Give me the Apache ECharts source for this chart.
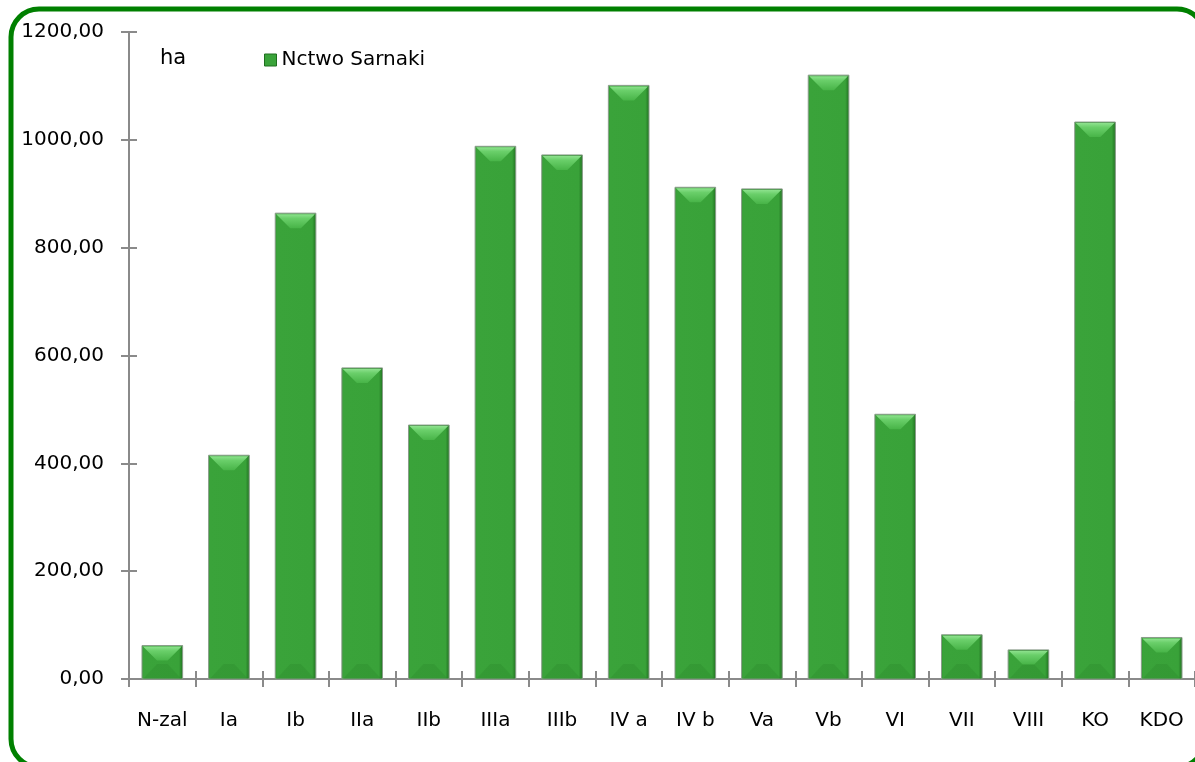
<!DOCTYPE html>
<html>
<head>
  <meta charset="UTF-8">
  <title>Nctwo Sarnaki</title>
  <style>
    * { margin: 0; padding: 0; }
    body { background: #ffffff; }
    #chart { width: 1195px; height: 762px; }
  </style>
</head>
<body>
<div id="chart"></div>
<script src="https://cdn.jsdelivr.net/npm/echarts@6/dist/echarts.min.js"></script>
<script>
  // dane
  var categories = ['N-zal', 'Ia', 'Ib', 'IIa', 'IIb', 'IIIa', 'IIIb', 'IV a', 'IV b', 'Va', 'Vb', 'VI', 'VII', 'VIII', 'KO', 'KDO'];
  var values = [62, 415, 864, 577, 471, 988, 972, 1101, 912, 909, 1120, 491, 82, 54, 1033, 77];
  var seriesName = 'Nctwo Sarnaki';
  var unitLabel = 'ha';

  var FONT = 'DejaVu Sans';
  var AXIS_COLOR = '#8a8a8a';
  var chart = echarts.init(document.getElementById('chart'));

  // slupek z fazowaniem (jak w Excelu)
  function renderBar(params, api) {
    var top = api.coord([api.value(0), api.value(1)]);
    var base = api.coord([api.value(0), 0]);
    var bw = api.size([1, 0])[0] * 0.61;
    var x = top[0] - bw / 2, y = top[1], h = base[1] - top[1];
    var b = Math.min(15, h / 2);
    return {
      type: 'group',
      children: [
        {
          type: 'rect',
          shape: { x: x, y: y, width: bw, height: h },
          style: {
            fill: new echarts.graphic.LinearGradient(0, 0, 1, 0, [
              { offset: 0, color: '#2f8f2f' },
              { offset: 0.05, color: '#3aa33a' },
              { offset: 0.9, color: '#39a239' },
              { offset: 1, color: '#1f6e1f' }
            ]),
            stroke: '#8a9c8a',
            lineWidth: 1
          }
        },
        {
          type: 'polygon',
          shape: { points: [[x + 1, y + 1], [x + bw - 1, y + 1], [x + bw - b, y + b], [x + b, y + b]] },
          style: {
            fill: new echarts.graphic.LinearGradient(0, 0, 0, 1, [
              { offset: 0, color: '#8ee28e' },
              { offset: 0.3, color: '#6acf6a' },
              { offset: 1, color: '#48b448' }
            ])
          }
        },
        {
          type: 'polygon',
          shape: { points: [[x + 1, base[1]], [x + bw - 1, base[1]], [x + bw - b, base[1] - b], [x + b, base[1] - b]] },
          style: { fill: 'rgba(30,110,30,0.15)' }
        }
      ]
    };
  }

  var option = {
    animation: false,
    textStyle: { fontFamily: FONT },
    graphic: [
      {
        type: 'rect',
        shape: { x: 11, y: 9, width: 1194, height: 758, r: 28 },
        style: { fill: 'none', stroke: '#008000', lineWidth: 5 },
        z: 100
      },
      {
        type: 'text',
        left: 160, top: 48,
        style: { text: unitLabel, fontSize: 21, fontFamily: FONT, fill: '#000' }
      }
    ],
    legend: {
      left: 259, top: 45,
      itemWidth: 12, itemHeight: 12, itemGap: 6,
      icon: 'rect',
      textStyle: { fontSize: 20, color: '#000', fontFamily: FONT, padding: [0, 0, 0, 0] },
      data: [{ name: seriesName, itemStyle: { color: '#3aa33a', borderColor: '#1f6e1f', borderWidth: 1 } }]
    },
    grid: { left: 129, top: 32, right: -8, bottom: 83 },
    xAxis: [
      {
        type: 'category',
        data: categories,
        axisLine: { lineStyle: { color: AXIS_COLOR, width: 2 } },
        axisTick: { show: true, interval: 0, length: 8, lineStyle: { color: AXIS_COLOR, width: 2 } },
        axisLabel: { interval: 0, margin: 32, fontSize: 20, color: '#000', fontFamily: FONT }
      },
      {
        // druga os tylko dla kresek do wewnatrz
        type: 'category',
        data: categories,
        position: 'bottom',
        axisLine: { show: false },
        axisTick: { show: true, inside: true, interval: 0, length: 8, lineStyle: { color: AXIS_COLOR, width: 2 } },
        axisLabel: { show: false }
      }
    ],
    yAxis: [
      {
        type: 'value',
        min: 0, max: 1200, interval: 200,
        axisLine: { show: true, lineStyle: { color: AXIS_COLOR, width: 2 } },
        axisTick: { show: true, length: 8, lineStyle: { color: AXIS_COLOR, width: 2 } },
        splitLine: { show: false },
        axisLabel: {
          margin: 25, fontSize: 20, color: '#000', fontFamily: FONT,
          formatter: function (v) { return v.toFixed(2).replace('.', ','); }
        }
      },
      {
        type: 'value',
        min: 0, max: 1200, interval: 200,
        position: 'left',
        axisLine: { show: false },
        axisTick: { show: true, inside: true, length: 8, lineStyle: { color: AXIS_COLOR, width: 2 } },
        splitLine: { show: false },
        axisLabel: { show: false }
      }
    ],
    series: [{
      name: seriesName,
      type: 'custom',
      renderItem: renderBar,
      encode: { x: 0, y: 1 },
      z: 3,
      data: values.map(function (v, i) { return [i, v]; })
    }]
  };

  chart.setOption(option);
</script>
</body>
</html>
